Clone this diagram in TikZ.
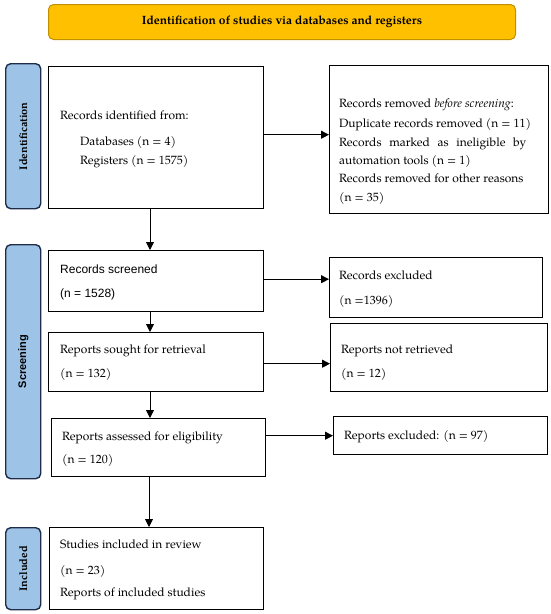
\documentclass[tikz,border=0pt]{standalone}
\usepackage{fontspec}
\setmainfont{TeX Gyre Pagella}
\newfontfamily\arialf{Liberation Sans}
\usetikzlibrary{arrows.meta}
\definecolor{bannerfill}{HTML}{FFC000}
\definecolor{bannerdraw}{HTML}{BF9000}
\definecolor{sidefill}{HTML}{9DC3E6}
\definecolor{sidedraw}{HTML}{1F2D4A}
\begin{document}
\begin{tikzpicture}[x=1pt,y=-1pt, font=\fontsize{12}{14}\selectfont,
  box/.style={draw=black, line width=1.4pt, anchor=north west, inner sep=0pt},
  side/.style={draw=sidedraw, fill=sidefill, line width=1.4pt, rounded corners=5pt, anchor=north west, inner sep=0pt},
  sidetxt/.style={rotate=90, inner sep=0pt, font=\fontsize{11}{13}\selectfont\bfseries},
  txt/.style={anchor=base west, inner sep=0pt},
  arr/.style={-{Triangle[length=8pt,width=8pt]}, line width=0.9pt}]
\useasboundingbox (0,0) rectangle (550,614);

% banner
\node[draw=bannerdraw, fill=bannerfill, rounded corners=5pt, line width=1pt,
      minimum width=467pt, minimum height=35pt, anchor=north west, inner sep=0pt,
      font=\fontsize{12}{14}\selectfont\bfseries] (banner) at (48,4)
      {Identification of studies via databases and registers};

% side labels
\node[side, minimum width=35pt, minimum height=145pt] (sideid) at (5,63) {};
\node[sidetxt] (sideidt) at (sideid.center) {Identification};
\node[side, minimum width=35pt, minimum height=234pt] (sidesc) at (5,244) {};
\node[sidetxt, font=\arialf\fontsize{11}{13}\selectfont\bfseries] (sidesct) at (sidesc.center) {Screening};
\node[side, minimum width=35pt, minimum height=82pt] (sidein) at (5,527) {};
\node[sidetxt] (sideint) at (sidein.center) {Included};

% boxes
\node[box, minimum width=215pt, minimum height=142pt] (ident) at (48,66) {};
\node[box, minimum width=219pt, minimum height=148pt] (removed) at (329,65) {};
\node[box, minimum width=215pt, minimum height=61pt] (screened) at (48,250) {};
\node[box, minimum width=213pt, minimum height=60pt] (excl) at (329,257) {};
\node[box, minimum width=215pt, minimum height=59pt] (sought) at (48,332) {};
\node[box, minimum width=217pt, minimum height=68pt] (notret) at (330,323) {};
\node[box, minimum width=214pt, minimum height=58pt] (assessed) at (51,418) {};
\node[box, minimum width=214pt, minimum height=38pt] (excl2) at (333,416) {};
\node[box, minimum width=214pt, minimum height=82pt] (included) at (49,527) {};

% texts
\node[txt] (t1) at (60,119) {Records identified from:};
\node[txt] (t2) at (80,145) {Databases (n = 4)};
\node[txt] (t3) at (80,164) {Registers (n = 1575)};

\node[txt] (r1) at (339,107) {Records removed \textit{before screening}:};
\node[txt] (r2) at (339,127) {Duplicate records removed (n = 11)};
\node[txt] (r3) at (339,146) {\makebox[187pt][s]{Records marked as ineligible by}};
\node[txt] (r4) at (339,164) {automation tools (n = 1)};
\node[txt] (r5) at (339,182) {Records removed for other reasons};
\node[txt] (r6) at (339,201) {(n = 35)};

\node[txt, font=\arialf\fontsize{12}{14}\selectfont] (s1) at (60,273) {Records screened};
\node[txt, font=\arialf\fontsize{12}{14}\selectfont] (s2) at (60,297) {(n = 1528)};
\node[txt] (e1) at (339,279) {Records excluded};
\node[txt] (e2) at (339,304) {(n =1396)};

\node[txt] (p1) at (60,353) {Reports sought for retrieval};
\node[txt] (p2) at (60,377) {(n = 132)};
\node[txt] (n1) at (341,353) {Reports not retrieved};
\node[txt] (n2) at (341,377) {(n = 12)};

\node[txt] (a1) at (62,440) {Reports assessed for eligibility};
\node[txt] (a2) at (62,463) {(n = 120)};
\node[txt] (x1) at (344,439) {Reports excluded: (n = 97)};

\node[txt] (i1) at (60,548) {Studies included in review};
\node[txt] (i2) at (60,574) {(n = 23)};
\node[txt] (i3) at (60,596) {Reports of included studies};

% connectors
\coordinate (vx) at (150,0);
\coordinate (vy) at (149,0);
\draw[arr] ([yshift=3pt]ident.east) -- ([yshift=3pt]ident.east -| removed.west);
\draw[arr] (ident.south -| vx) -- (screened.north -| vx);
\draw[arr] ([yshift=2pt]screened.east) -- ([yshift=2pt]screened.east -| excl.west);
\draw[arr] (screened.south -| vx) -- (sought.north -| vx);
\draw[arr] ([yshift=-1.5pt]sought.east) -- ([yshift=-1.5pt]sought.east -| notret.west);
\draw[arr] (sought.south -| vx) -- (assessed.north -| vx);
\draw[arr] (assessed.east |- excl2.west) -- (excl2.west);
\draw[arr] (assessed.south -| vy) -- (included.north -| vy);
\end{tikzpicture}
\end{document}
